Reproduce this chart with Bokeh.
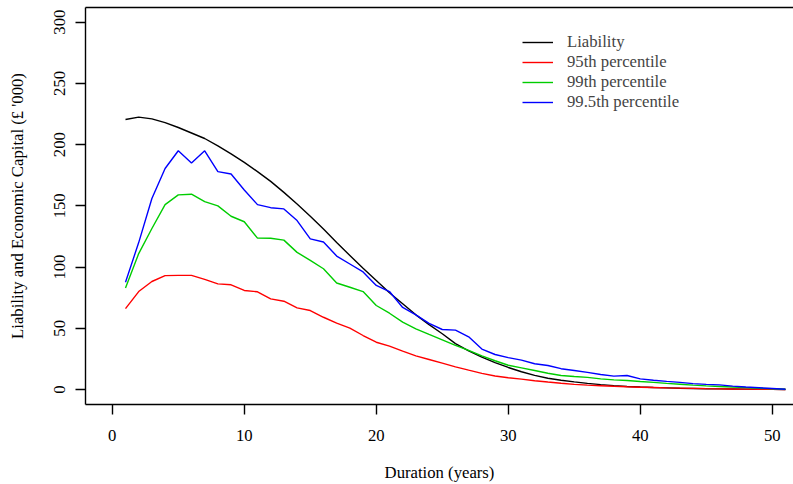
from bokeh.plotting import figure
from bokeh.models import Range1d, FixedTicker, LinearAxis, Legend, LegendItem
from bokeh.embed import file_html
from bokeh.resources import INLINE

duration = list(range(1, 52))

liability = [220.5, 222.5, 221, 218, 214, 209.5, 205, 199, 192.5, 185.5,
             178, 170, 161, 151.5, 141.5, 131, 120, 109.5, 99, 89,
             79, 70, 61, 53, 45.5, 37.5, 31.5, 26.5, 22, 18,
             14.5, 11.5, 9.2, 7.6, 6.2, 5, 4, 3.2, 2.5, 2,
             1.6, 1.3, 1.0, 0.8, 0.6, 0.5, 0.4, 0.3, 0.2, 0.1, 0.0]

p95 = [66, 80, 88.2, 93, 93.2, 93.2, 90, 86.3, 85.5, 80.9,
       79.8, 74, 72.1, 66.7, 64.5, 59, 54.2, 50.1, 44.1, 38.6,
       35.4, 31.3, 27.5, 24.5, 21.5, 18.5, 15.8, 13.2, 11, 9.6,
       8.5, 7.2, 6.1, 5.1, 4.2, 3.6, 3.1, 2.6, 2.2, 1.9,
       1.6, 1.3, 1.1, 0.9, 0.7, 0.55, 0.4, 0.3, 0.2, 0.1, 0.05]

p99 = [83, 111, 131.5, 151, 159, 159.5, 153.5, 150, 141.5, 137,
       123.6, 123.5, 122, 112, 105.5, 98.6, 87, 83.5, 80, 68.6,
       62.3, 55, 49.6, 45, 40.5, 36, 32, 27.5, 23.5, 19.8,
       17.7, 15.5, 13.3, 11.4, 10.6, 9.9, 8.7, 7.9, 7.4, 6.5,
       5.8, 5, 4.3, 3.6, 3, 2.5, 2, 1.5, 1.0, 0.6, 0.2]

p995 = [87.6, 120, 156, 180.5, 195, 185, 195, 178, 176, 163,
        151, 148.5, 147.5, 138, 123, 120.5, 109, 102.5, 96, 85,
        80, 67, 61, 54, 49, 48.5, 43, 33, 28.6, 26,
        24, 21, 19.6, 17, 15.5, 14, 12.2, 10.9, 11.4, 8.7,
        7.5, 6.6, 5.8, 4.8, 4.2, 3.8, 2.8, 2.0, 1.4, 0.8, 0.2]

x_ticks = [0, 10, 20, 30, 40, 50]
y_ticks = [0, 50, 100, 150, 200, 250, 300]
series_names = ["Liability", "95th percentile", "99th percentile", "99.5th percentile"]
series_colors = ["#000000", "#FF0000", "#00CD00", "#0000FF"]

FONT = "Liberation Serif"
FS = "16.7px"
LW = 1.4

p = figure(width=793, height=484, output_backend="svg", toolbar_location=None,
           x_range=Range1d(-2.03, 51.61), y_range=Range1d(-12.25, 312.0),
           min_border_left=85, min_border_right=0, min_border_top=7,
           min_border_bottom=80, x_axis_location=None, y_axis_location=None)
p.grid.visible = False
p.outline_line_color = None
p.background_fill_color = "white"
p.border_fill_color = "white"

def style_axis(ax):
    ax.axis_line_color = "black"
    ax.axis_line_width = LW
    ax.major_tick_line_color = "black"
    ax.major_tick_line_width = LW
    ax.major_tick_in = 0
    ax.major_tick_out = 10
    ax.minor_tick_line_color = None
    ax.major_label_text_font = FONT
    ax.major_label_text_font_size = FS
    ax.major_label_text_color = "black"
    ax.axis_label_text_font = FONT
    ax.axis_label_text_font_size = FS
    ax.axis_label_text_font_style = "normal"
    ax.axis_label_text_color = "black"

xax = LinearAxis(ticker=FixedTicker(ticks=x_ticks), axis_label="Duration (years)")
style_axis(xax)
xax.major_label_standoff = 15
xax.axis_label_standoff = 19
p.add_layout(xax, "below")

yax = LinearAxis(ticker=FixedTicker(ticks=y_ticks),
                 axis_label="Liability and Economic Capital (£ '000)")
style_axis(yax)
yax.major_label_orientation = "vertical"
yax.major_label_standoff = 10
yax.axis_label_standoff = 25
p.add_layout(yax, "left")

top = LinearAxis(ticker=FixedTicker(ticks=[]))
top.axis_line_color = "black"
top.axis_line_width = LW
top.major_tick_out = 0
top.major_tick_in = 0
top.minor_tick_out = 0
top.minor_tick_in = 0
top.major_label_standoff = 0
top.major_label_text_font_size = "0px"
p.add_layout(top, "above")

renderers = []
for ys, c in zip([liability, p95, p99, p995], series_colors):
    r = p.line(duration, ys, line_color=c, line_width=LW)
    renderers.append(r)

legend = Legend(items=[LegendItem(label=n, renderers=[r]) for n, r in zip(series_names, renderers)],
                location=(437, 292), orientation="vertical")
legend.label_text_font = FONT
legend.label_text_font_size = FS
legend.glyph_width = 31
legend.glyph_height = 20
legend.label_height = 20
legend.spacing = 0
legend.padding = 0
legend.margin = 0
legend.label_standoff = 14
legend.border_line_color = None
legend.background_fill_alpha = 0
p.add_layout(legend, "center")

open("out.html", "w").write(file_html(p, INLINE))
